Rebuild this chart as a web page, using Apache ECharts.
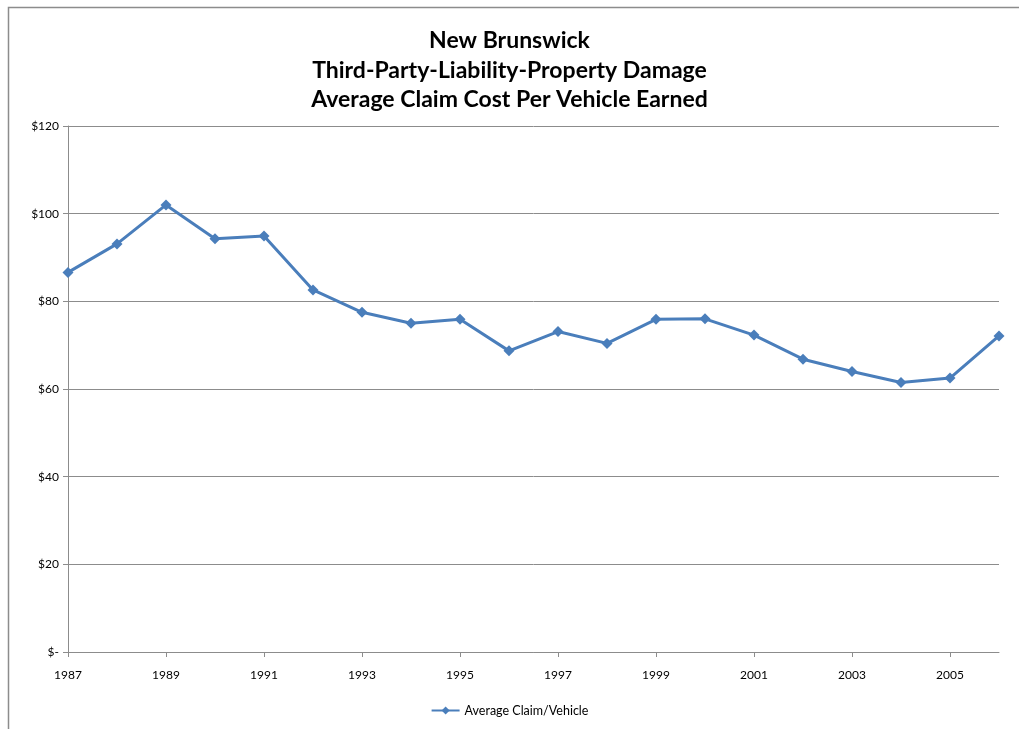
<!DOCTYPE html>
<html>
<head>
<meta charset="utf-8">
<script src="https://cdn.jsdelivr.net/npm/echarts@6/dist/echarts.min.js"></script>
<style>
  html, body { margin: 0; padding: 0; background: #fff; }
  #chart { width: 1019px; height: 729px; }
</style>
</head>
<body>
<div id="chart"></div>
<script>
const years = ['1987','1988','1989','1990','1991','1992','1993','1994','1995','1996',
               '1997','1998','1999','2000','2001','2002','2003','2004','2005','2006']
const avgClaim = [86.6, 93.1, 102.0, 94.3, 94.9, 82.6, 77.5, 75.0, 75.9, 68.7,
                  73.1, 70.4, 75.9, 76.0, 72.3, 66.8, 64.0, 61.5, 62.5, 72.1]
const titleLines = ['New Brunswick', 'Third-Party-Liability-Property Damage', 'Average Claim Cost Per Vehicle Earned']

const font = 'Lato, "Open Sans", sans-serif'
const chart = echarts.init(document.getElementById('chart'))

chart.setOption({
  animation: false,
  textStyle: { fontFamily: font },
  graphic: [{
    type: 'rect', left: 6, top: 5, silent: true,
    shape: { width: 1100, height: 800 },
    style: { fill: 'none', stroke: '#8c8c8c', lineWidth: 1.5 }
  }],
  title: {
    text: titleLines.join('\n'),
    left: 'center', top: 21,
    textStyle: { fontFamily: font, fontSize: 23, fontWeight: 'bold', color: '#000', lineHeight: 29.5 }
  },
  legend: {
    bottom: 7, left: 'center',
    data: ['Average Claim/Vehicle'],
    itemWidth: 28, itemHeight: 10,
    textStyle: { fontFamily: font, fontSize: 12.5, color: '#000' }
  },
  grid: { left: 68, right: 20, top: 126, bottom: 77 },
  xAxis: {
    type: 'category', data: years, boundaryGap: false,
    axisLine: { lineStyle: { color: '#8c8c8c', width: 1 } },
    axisTick: { interval: 1, length: 5, lineStyle: { color: '#8c8c8c' } },
    axisLabel: { interval: 1, color: '#000', fontSize: 12, margin: 17, fontFamily: font }
  },
  yAxis: {
    type: 'value', min: 0, max: 120, interval: 20,
    axisLine: { show: true, lineStyle: { color: '#8c8c8c', width: 1 } },
    axisTick: { show: true, length: 5, lineStyle: { color: '#8c8c8c' } },
    splitLine: { lineStyle: { color: '#8c8c8c', width: 1 } },
    axisLabel: {
      color: '#000', fontSize: 12, margin: 9, fontFamily: font,
      formatter: v => v === 0 ? '$-' : '$' + v
    }
  },
  series: [{
    name: 'Average Claim/Vehicle',
    type: 'line', data: avgClaim,
    symbol: 'diamond', symbolSize: 11,
    lineStyle: { color: '#4a7ebb', width: 3 },
    itemStyle: { color: '#4a7ebb' }
  }]
})
</script>
</body>
</html>
